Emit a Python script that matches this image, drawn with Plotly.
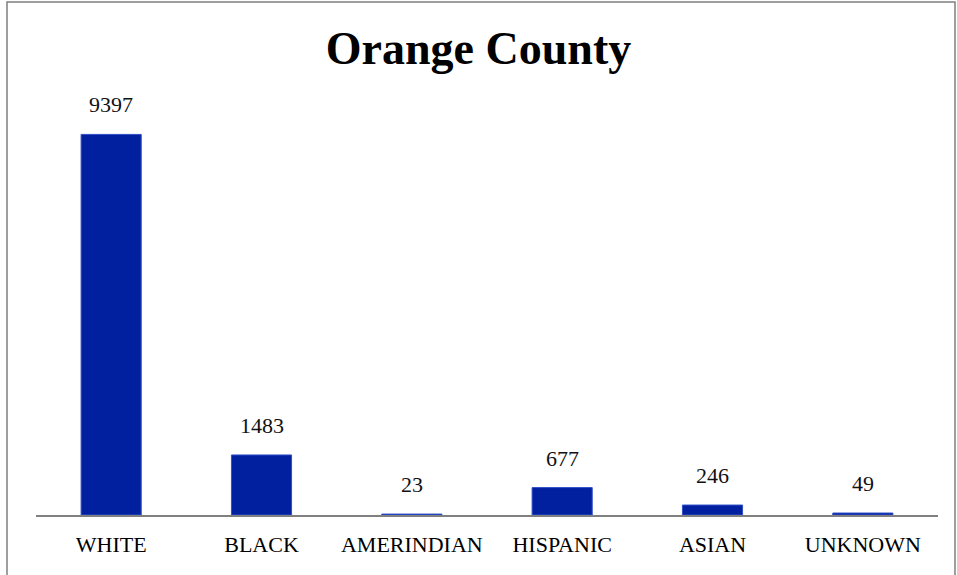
import plotly.graph_objects as go

categories = ["WHITE", "BLACK", "AMERINDIAN", "HISPANIC", "ASIAN", "UNKNOWN"]
values = [9397, 1483, 23, 677, 246, 49]
title_text = "Orange County"

FONT = "Liberation Serif"
BAR_COLOR = "#0020A0"

fig = go.Figure()
fig.add_trace(go.Bar(
    x=categories, y=values,
    marker=dict(color=BAR_COLOR, line=dict(color="#3050C8", width=1)),
    width=0.4,
    hoverinfo="x+y",
))

for c, v in zip(categories, values):
    fig.add_annotation(x=c, y=v, text=str(v), showarrow=False,
                       yanchor="bottom", yshift=15,
                       font=dict(family=FONT, size=22, color="#111111"))

W, H = 957, 575
ml, mr, mt, mb = 36, 19, 110, 60
pw = W - ml - mr
ph = H - mt - mb

def px_to_paper_x(px):
    return (px - ml) / pw

def px_to_paper_y(py):
    return (H - mb - py) / ph

fig.add_shape(type="rect", xref="paper", yref="paper",
              x0=px_to_paper_x(7), x1=px_to_paper_x(955),
              y0=px_to_paper_y(590), y1=px_to_paper_y(2),
              line=dict(color="#7f7f7f", width=1.5), fillcolor="rgba(0,0,0,0)",
              layer="below")

fig.update_layout(
    width=W, height=H,
    margin=dict(l=ml, r=mr, t=mt, b=mb),
    paper_bgcolor="white", plot_bgcolor="white",
    title=dict(text="<b>" + title_text + "</b>", x=0.5, xanchor="center",
               y=1 - 48 / H, yanchor="middle",
               font=dict(family=FONT, size=46, color="#000000")),
    showlegend=False,
    xaxis=dict(showline=True, linecolor="#808080", linewidth=2,
               ticks="", showgrid=False, zeroline=False,
               tickfont=dict(family=FONT, size=22, color="#000000"),
               ticklabelstandoff=9),
    yaxis=dict(range=[0, 10000], visible=False, showgrid=False, zeroline=False),
)

fig.write_html("out.html", config={"displayModeBar": False},
               post_script="document.body.style.margin='0';document.body.style.overflow='hidden';")
